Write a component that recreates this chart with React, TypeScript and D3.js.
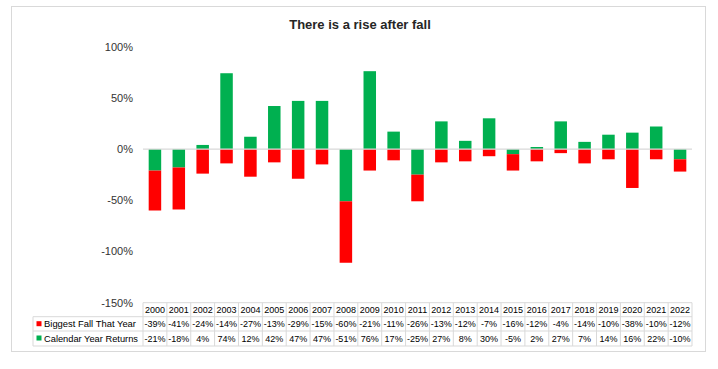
import React from "react";
import * as d3 from "d3";

const years = ["2000","2001","2002","2003","2004","2005","2006","2007","2008","2009","2010","2011","2012","2013","2014","2015","2016","2017","2018","2019","2020","2021","2022"];
const biggestFall = [-39,-41,-24,-14,-27,-13,-29,-15,-60,-21,-11,-26,-13,-12,-7,-16,-12,-4,-14,-10,-38,-10,-12];
const yearReturns = [-21,-18,4,74,12,42,47,47,-51,76,17,-25,27,8,30,-5,2,27,7,14,16,22,-10];
const yTicks = [100, 50, 0, -50, -100, -150];

const RED = "#ff0000";
const GREEN = "#00b050";
const GRID = "#d9d9d9";
const FONT = "Liberation Sans, Arial, sans-serif";

export default function App() {
  const left = 143, right = 692;
  const x = d3.scaleBand().domain(years).range([left, right]).paddingInner(0).paddingOuter(0);
  const y = d3.scaleLinear().domain([-150, 100]).range([302.7, 46.6]);
  const bw = 12.5;
  const row1 = 302.7, row2 = 316.7, row3 = 331, row4 = 346;
  const legLeft = 33;

  return (
    <svg width={718} height={369} style={{ position: "absolute", left: 0, top: 0 }} fontFamily={FONT}>
      <rect x={0} y={0} width={718} height={369} fill="#fff" />
      <rect x={11.5} y={6.5} width={694} height={345} fill="none" stroke={GRID} />
      <text x={360} y={29} textAnchor="middle" fontSize={13} fontWeight="bold" fill="#262626">There is a rise after fall</text>

      {yTicks.map(t => (
        <text key={t} x={133} y={y(t) + 4} textAnchor="end" fontSize={11} fill="#333333">{t}%</text>
      ))}

      {years.map((yr, i) => {
        const cx = (x(yr) as number) + x.bandwidth() / 2;
        const r = yearReturns[i];
        const f = biggestFall[i];
        const fallBase = r < 0 ? r : 0;
        return (
          <g key={yr}>
            <rect x={cx - bw / 2} y={y(Math.max(r, 0))} width={bw} height={Math.abs(y(r) - y(0))} fill={GREEN} />
            <rect x={cx - bw / 2} y={y(fallBase)} width={bw} height={y(fallBase + f) - y(fallBase)} fill={RED} />
          </g>
        );
      })}
      <line x1={left} x2={right} y1={y(0)} y2={y(0)} stroke={GRID} strokeWidth={1.3} />

      {/* data table */}
      <g stroke={GRID} strokeWidth={1} fill="none">
        <line x1={left} x2={right} y1={row1} y2={row1} />
        <line x1={legLeft} x2={right} y1={row2} y2={row2} />
        <line x1={legLeft} x2={right} y1={row3} y2={row3} />
        <line x1={legLeft} x2={right} y1={row4} y2={row4} />
        <line x1={legLeft} x2={legLeft} y1={row2} y2={row4} />
        {years.map(yr => (
          <line key={yr} x1={x(yr) as number} x2={x(yr) as number} y1={row1} y2={row4} />
        ))}
        <line x1={right} x2={right} y1={row1} y2={row4} />
      </g>
      {years.map((yr, i) => {
        const cx = (x(yr) as number) + x.bandwidth() / 2;
        return (
          <g key={yr} fontSize={9} fill="#000" textAnchor="middle">
            <text x={cx} y={row1 + 10.5}>{yr}</text>
            <text x={cx} y={row2 + 10.5}>{biggestFall[i]}%</text>
            <text x={cx} y={row3 + 10.5}>{yearReturns[i]}%</text>
          </g>
        );
      })}
      <rect x={36.5} y={row2 + 4.5} width={5} height={5} fill={RED} />
      <text x={44} y={row2 + 10.5} fontSize={9.5} fill="#000" textLength={92} lengthAdjust="spacingAndGlyphs">Biggest Fall That Year</text>
      <rect x={36.5} y={row3 + 4.5} width={5} height={5} fill={GREEN} />
      <text x={44} y={row3 + 10.5} fontSize={9.5} fill="#000" textLength={94} lengthAdjust="spacingAndGlyphs">Calendar Year Returns</text>
    </svg>
  );
}
